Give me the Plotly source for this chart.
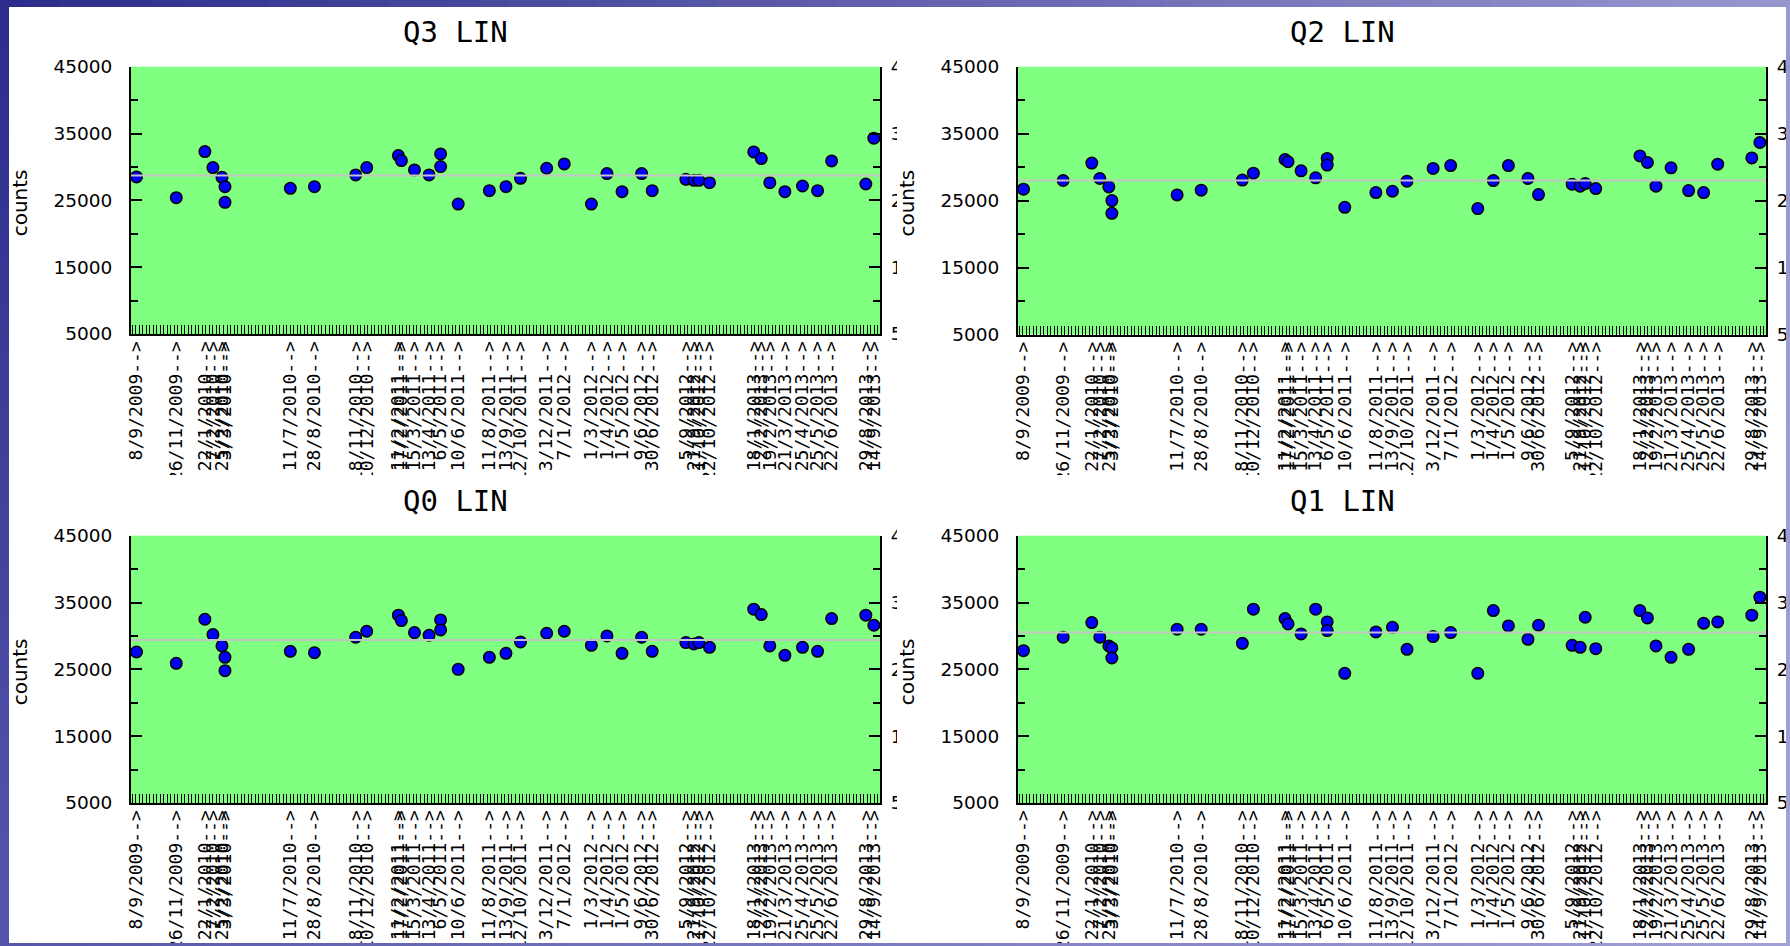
import plotly.graph_objects as go
from datetime import datetime

# Measurement dates (one entry per point)
dates = [
    "2009-09-08", "2009-11-26", "2010-01-22", "2010-02-07", "2010-02-25", "2010-03-03", "2010-03-03",
    "2010-07-11", "2010-08-28", "2010-11-18", "2010-12-10", "2011-02-11", "2011-02-17", "2011-03-15",
    "2011-04-13", "2011-05-06", "2011-05-06", "2011-06-10", "2011-08-11", "2011-09-13", "2011-10-12",
    "2011-12-03", "2012-01-07", "2012-03-01", "2012-04-01", "2012-05-01", "2012-06-09", "2012-06-30",
    "2012-09-05", "2012-09-21", "2012-10-01", "2012-10-22", "2013-01-18", "2013-02-02", "2013-02-19",
    "2013-03-21", "2013-04-25", "2013-05-25", "2013-06-22", "2013-08-29", "2013-09-14",
]

# Counts per quadrant
q3 = [28500, 25400, 32300, 29900, 28450, 27050, 24700, 26800, 27050, 28800, 29900, 31700, 30950, 29550,
      28800, 31950, 30050, 24450, 26450, 27050, 28300, 29800, 30450, 24450, 29000, 26300, 29000, 26450,
      28150, 28000, 28000, 27650, 32250, 31250, 27650, 26300, 27150, 26450, 30900, 27450, 34300]
q2 = [26700, 28000, 30600, 28300, 27050, 25000, 23100, 25850, 26550, 28070, 29100, 31140, 30800, 29440,
      28400, 31300, 30300, 24000, 26200, 26400, 27900, 29800, 30230, 23810, 27990, 30230, 28300, 25900,
      27450, 27150, 27550, 26800, 31680, 30690, 27150, 29890, 26500, 26200, 30440, 31380, 33680]
q0 = [27600, 25900, 32500, 30200, 28500, 26800, 24800, 27700, 27500, 29800, 30700, 33100, 32300, 30500,
      30100, 32400, 30900, 25000, 26800, 27400, 29100, 30400, 30700, 28600, 30000, 27400, 29800, 27700,
      29000, 28800, 29000, 28300, 34000, 33200, 28500, 27100, 28300, 27700, 32600, 33100, 31600]
q1 = [27800, 29800, 32000, 29800, 28500, 28200, 26700, 31000, 31000, 28900, 34000, 32600, 31800, 30300,
      34000, 32100, 30800, 24400, 30600, 31300, 28000, 29900, 30500, 24400, 33800, 31500, 29500, 31600,
      28600, 28300, 32800, 28100, 33800, 32700, 28500, 26800, 28000, 31900, 32100, 33100, 35800]

# Reference level drawn across each panel
levels = {"Q3": 28700, "Q2": 28000, "Q0": 29400, "Q1": 30500}

y_ticks = [5000, 15000, 25000, 35000, 45000]
y_range = [5000, 45000]
x_range = ["2009-08-28", "2013-09-26 05:00"]

W, H = 1790, 946


def fx(p):
    return p / W


def fy(p):
    return 1 - p / H


def sfx(i):
    return "" if i == 1 else str(i)


tick_dates = list(dict.fromkeys(dates))
tick_text = []
for s in tick_dates:
    d = datetime.strptime(s, "%Y-%m-%d")
    tick_text.append(f"{d.day}/{d.month}/{d.year}-->")

panels = [
    ("Q3", q3, (131, 880), (66.7, 334.0)),
    ("Q2", q2, (1018, 1766), (66.7, 334.5)),
    ("Q0", q0, (131, 880), (535.7, 803.0)),
    ("Q1", q1, (1018, 1766), (535.7, 803.0)),
]

MONO = "DejaVu Sans Mono"
SANS = "DejaVu Sans"

fig = go.Figure()
layout = dict(
    width=W, height=H, margin=dict(l=0, r=0, t=0, b=0),
    paper_bgcolor="white", plot_bgcolor="#80ff80", showlegend=False,
)
shapes = []
annotations = []

for i, (name, vals, (px0, px1), (py0, py1)) in enumerate(panels, start=1):
    xs, ys, ys2 = sfx(i), sfx(i), sfx(i + 4)
    fig.add_trace(go.Scatter(
        x=dates, y=vals, mode="markers", xaxis="x" + xs, yaxis="y" + ys,
        marker=dict(size=11.5, color="#0000ff", line=dict(color="black", width=1.5)),
        hoverinfo="x+y",
    ))
    # same series bound to the right-hand axis so that axis is laid out
    fig.add_trace(go.Scatter(
        x=dates, y=vals, mode="markers", xaxis="x" + xs, yaxis="y" + ys2,
        marker=dict(size=1, opacity=0), hoverinfo="skip",
    ))
    layout["xaxis" + xs] = dict(
        domain=[fx(px0), fx(px1)], anchor="y" + ys, type="date", range=x_range,
        tickmode="array", tickvals=tick_dates, ticktext=tick_text, tickangle=-90,
        ticks="", showgrid=False, zeroline=False, automargin=False,
        showline=True, linecolor="black", linewidth=2,
        tickfont=dict(family=MONO, size=18, color="black"),
        ticklabeloverflow="allow", ticklabelstandoff=-2,
        minor=dict(tickmode="linear", tick0="2009-08-30", dtick=7 * 86400000,
                   ticks="inside", ticklen=9, tickwidth=1, tickcolor="black", showgrid=False),
    )
    yaxis_common = dict(
        range=y_range, showgrid=False, zeroline=False, automargin=False,
        showline=True, linecolor="black", linewidth=2,
        ticks="inside", ticklen=11, tickwidth=2, tickcolor="black",
        minor=dict(tickmode="linear", tick0=5000, dtick=5000, ticks="inside",
                   ticklen=7, tickwidth=2, tickcolor="black", showgrid=False),
    )
    layout["yaxis" + ys] = dict(
        domain=[fy(py1), fy(py0)], anchor="x" + xs, side="left",
        tickmode="array", tickvals=y_ticks, ticktext=[str(v) for v in y_ticks],
        tickfont=dict(family=SANS, size=18.5, color="black"), ticklabelstandoff=13,
        **yaxis_common,
    )
    layout["yaxis" + ys2] = dict(
        overlaying="y" + ys, anchor="x" + xs, side="right",
        tickmode="array", tickvals=y_ticks, ticktext=[str(v)[0] for v in y_ticks],
        tickfont=dict(family=SANS, size=18.5, color="black"), ticklabelstandoff=5,
        ticklabeloverflow="allow",
        **yaxis_common,
    )

    # horizontal reference level
    shapes.append(dict(
        type="line", xref="x" + xs + " domain", yref="y" + ys, x0=0, x1=1,
        y0=levels[name], y1=levels[name], line=dict(color="#c4c4c4", width=2), layer="above",
    ))

    cx = (px0 - 131) + 455.5
    cy = py0 - 34.5
    annotations.append(dict(
        text=f"{name} LIN", xref="paper", yref="paper", x=fx(cx), y=fy(cy),
        xanchor="center", yanchor="middle", showarrow=False,
        font=dict(family=MONO, size=29, color="black"),
    ))
    annotations.append(dict(
        text="counts", xref="paper", yref="paper", x=fx(px0 - 111), y=fy((py0 + py1) / 2 + 3),
        xanchor="center", yanchor="middle", showarrow=False, textangle=-90,
        font=dict(family=SANS, size=20, color="black"),
    ))

# each panel image ends below its date labels and beside its right-hand labels
shapes.append(dict(type="rect", xref="paper", yref="paper", x0=fx(9), x1=fx(1786),
                   y0=fy(487), y1=fy(475), fillcolor="white", line=dict(width=0), layer="above"))
for (ya0, ya1) in [(55, 345), (525, 815)]:
    shapes.append(dict(type="rect", xref="paper", yref="paper", x0=fx(897), x1=fx(905),
                       y0=fy(ya1), y1=fy(ya0), fillcolor="white", line=dict(width=0), layer="above"))


def mix(c1, c2, t):
    a = [int(c1[k:k + 2], 16) for k in (1, 3, 5)]
    b = [int(c2[k:k + 2], 16) for k in (1, 3, 5)]
    return "#" + "".join(f"{round(a[j] + (b[j] - a[j]) * t):02x}" for j in range(3))


def strip(x0, x1, y0, y1, c_start, c_end, n, horizontal):
    for k in range(n):
        t = (k + 0.5) / n
        col = mix(c_start, c_end, t)
        if horizontal:
            a0, a1 = x0 + (x1 - x0) * k / n, x0 + (x1 - x0) * (k + 1) / n + 1
            shapes.append(dict(type="rect", xref="paper", yref="paper", x0=fx(a0), x1=fx(min(a1, W)),
                               y0=fy(y1), y1=fy(y0), fillcolor=col, line=dict(width=0), layer="above"))
        else:
            b0, b1 = y0 + (y1 - y0) * k / n, y0 + (y1 - y0) * (k + 1) / n + 1
            shapes.append(dict(type="rect", xref="paper", yref="paper", x0=fx(x0), x1=fx(x1),
                               y0=fy(min(b1, H)), y1=fy(b0), fillcolor=col, line=dict(width=0), layer="above"))


# slide frame around the white panel
strip(0, W, 0, 7, "#2b2b8b", "#9898d0", 60, True)
strip(0, W, 943, H, "#5656ac", "#a2a2d8", 60, True)
strip(0, 9, 0, H, "#2b2b8b", "#5656ac", 40, False)
strip(1786, W, 0, H, "#9898d0", "#a2a2d8", 40, False)

layout["shapes"] = shapes
layout["annotations"] = annotations
fig.update_layout(**layout)
fig.write_html(
    "out.html",
    post_script="document.body.style.margin='0px';document.body.style.overflow='hidden';",
)
